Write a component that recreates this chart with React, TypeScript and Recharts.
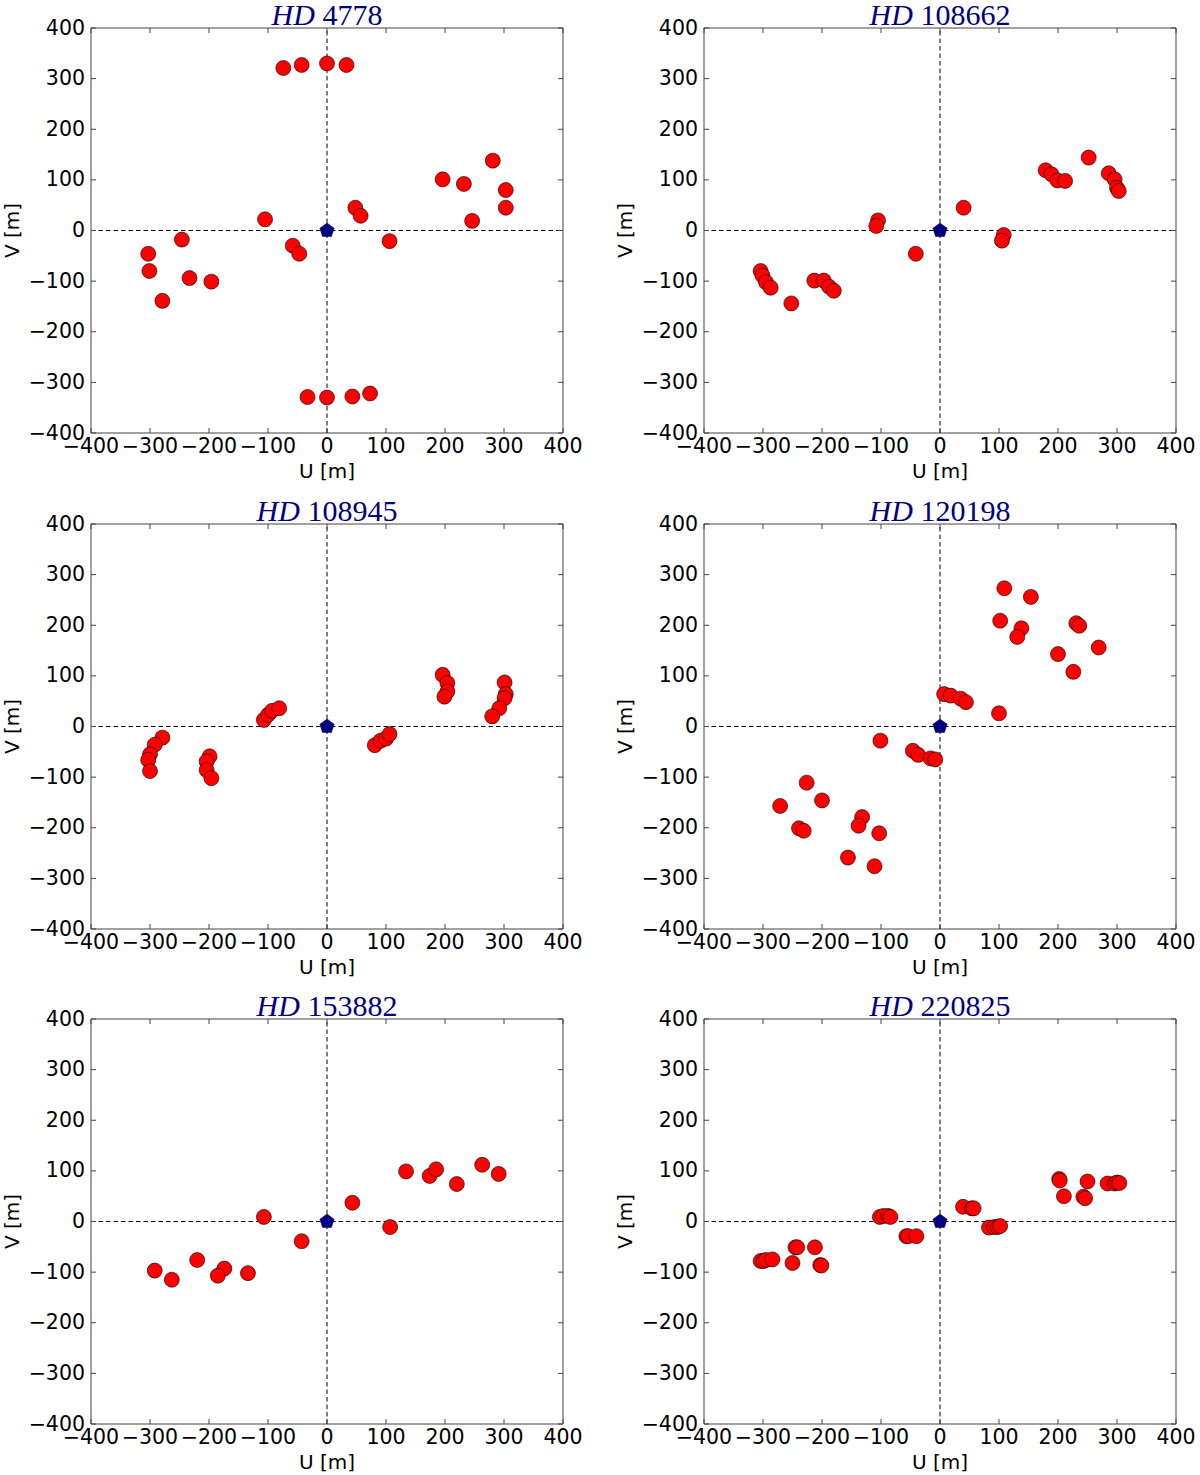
import React from 'react';
import { ScatterChart, Scatter, XAxis, YAxis, ReferenceLine, ReferenceArea } from 'recharts';

const ticks = [-400, -300, -200, -100, 0, 100, 200, 300, 400];

const stars = ['4778', '108662', '108945', '120198', '153882', '220825'];

const hd4778U = [-74, -43, 0, 33, 281, 196, 232, 303, 303, 246, 48, 57, 106, -105, -58, -47, -246, -303, -301, -233, -279, -196, -33, 0, 43, 73];
const hd4778V = [321, 327, 330, 327, 138, 101, 92, 80, 45, 19, 45, 29, -21, 22, -30, -46, -18, -46, -80, -94, -139, -101, -329, -330, -328, -322];

const hd108662U = [252, 179, 189, 199, 212, 286, 296, 300, 303, 40, -105, -108, 108, 105, -41, -304, -301, -295, -287, -252, -213, -197, -188, -180];
const hd108662V = [144, 119, 111, 99, 98, 113, 101, 84, 78, 45, 20, 9, -9, -20, -46, -80, -89, -102, -113, -144, -99, -99, -111, -119];

const hd108945U = [196, 204, 204, 199, 301, 303, 301, 292, 280, -279, -292, -300, -303, -300, -199, -204, -204, -196, -107, -100, -93, -81, 81, 91, 100, 106];
const hd108945V = [102, 86, 69, 59, 87, 64, 56, 36, 20, -22, -36, -55, -66, -88, -59, -69, -86, -102, 13, 23, 31, 36, -37, -28, -24, -15];

const hd120198U = [109, 154, 102, 138, 131, 231, 236, 269, 200, 226, 7, 18, 35, 44, 100, -101, -46, -37, -16, -8, -226, -200, -271, -239, -231, -132, -138, -103, -156, -111];
const hd120198V = [273, 256, 209, 194, 177, 204, 199, 156, 143, 108, 64, 61, 55, 48, 26, -28, -48, -56, -63, -65, -111, -146, -157, -201, -206, -179, -196, -211, -259, -276];

const hd153882U = [134, 174, 185, 220, 263, 291, 43, 107, -107, -43, -292, -263, -220, -174, -185, -134];
const hd153882V = [99, 90, 103, 74, 112, 94, 37, -11, 9, -39, -97, -115, -76, -93, -107, -102];

const hd220825U = [202, 203, 210, 250, 243, 246, 284, 296, 300, 304, 39, 54, 57, 83, 92, 98, 102, -102, -96, -88, -84, -57, -54, -40, -304, -299, -295, -284, -250, -245, -242, -212, -203, -201];
const hd220825V = [84, 81, 50, 79, 49, 46, 75, 75, 77, 76, 29, 26, 26, -12, -11, -11, -9, 9, 11, 11, 9, -29, -29, -29, -78, -78, -76, -75, -82, -51, -51, -51, -86, -87];

const uData = [hd4778U, hd108662U, hd108945U, hd120198U, hd153882U, hd220825U];
const vData = [hd4778V, hd108662V, hd108945V, hd120198V, hd153882V, hd220825V];

const PLOT_W = 472;
const PLOT_H = 405;
const CHART_W = 600;
const CHART_H = 496;
const colLeft = [0, 613];
const rowTop = [0, 496, 991];

const FONT = 'DejaVu Sans';
const fmt = (v: number) => (v < 0 ? `\u2212${-v}` : `${v}`);

function XTick(props: any) {
  const { x, y, payload } = props;
  return (
    <g>
      <line x1={x} y1={y} x2={x} y2={y - 5} stroke="#444" />
      <line x1={x} y1={y - PLOT_H} x2={x} y2={y - PLOT_H + 5} stroke="#444" />
      <text x={x} y={y + 20} textAnchor="middle" fontSize={20.5} fontFamily={FONT} fill="#000">
        {fmt(payload.value)}
      </text>
    </g>
  );
}

function YTick(props: any) {
  const { x, y, payload } = props;
  return (
    <g>
      <line x1={x} y1={y} x2={x + 5} y2={y} stroke="#444" />
      <line x1={x + PLOT_W} y1={y} x2={x + PLOT_W - 5} y2={y} stroke="#444" />
      <text x={x - 6} y={y + 6.5} textAnchor="end" fontSize={20.5} fontFamily={FONT} fill="#000">
        {fmt(payload.value)}
      </text>
    </g>
  );
}

const Dot = (props: any) => (
  <circle cx={props.cx} cy={props.cy} r={7.5} fill="#ff0000" stroke="#000" strokeWidth={0.6} />
);

const Pentagon = (props: any) => {
  const { cx, cy } = props;
  const pts = [0, 1, 2, 3, 4]
    .map((k) => {
      const a = ((-90 + 72 * k) * Math.PI) / 180;
      return `${cx + 7.5 * Math.cos(a)},${cy + 7.5 * Math.sin(a)}`;
    })
    .join(' ');
  return <polygon points={pts} fill="#000080" stroke="#000040" strokeWidth={0.5} />;
};

function Panel({ idx }: { idx: number }) {
  const points = uData[idx].map((u, i) => ({ u, v: vData[idx][i] }));
  const left = colLeft[idx % 2];
  const top = rowTop[Math.floor(idx / 2)];
  return (
    <div style={{ position: 'absolute', left, top, width: CHART_W, height: CHART_H }}>
      <div
        style={{
          position: 'absolute',
          left: 91,
          top: 0,
          width: PLOT_W,
          textAlign: 'center',
          fontFamily: 'Liberation Serif',
          fontSize: 30,
          lineHeight: '30px',
          color: '#000080',
        }}
      >
        <i>HD</i> {stars[idx]}
      </div>
      <ScatterChart
        width={CHART_W}
        height={CHART_H}
        margin={{ top: 28, right: 37, bottom: 3, left: 0 }}
        style={{ fontFamily: FONT }}
      >
        <XAxis
          type="number"
          dataKey="u"
          domain={[-400, 400]}
          ticks={ticks}
          interval={0}
          height={60}
          axisLine={false}
          tickLine={false}
          tickSize={0}
          tickMargin={0}
          tick={<XTick />}
          label={{ value: 'U [m]', position: 'insideBottom', offset: 15, fill: '#000', fontSize: 20, fontFamily: FONT }}
        />
        <YAxis
          type="number"
          dataKey="v"
          domain={[-400, 400]}
          ticks={ticks}
          interval={0}
          width={91}
          axisLine={false}
          tickLine={false}
          tickSize={0}
          tickMargin={0}
          tick={<YTick />}
          label={{
            value: 'V [m]',
            angle: -90,
            position: 'insideLeft',
            offset: 12,
            fill: '#000',
            fontSize: 20,
            fontFamily: FONT,
            style: { textAnchor: 'middle' },
          }}
        />
        <ReferenceArea x1={-400} x2={400} y1={-400} y2={400} fill="none" stroke="#444" strokeWidth={1} />
        <ReferenceLine x={0} stroke="#000" strokeWidth={1} strokeDasharray="4.5 3" />
        <ReferenceLine y={0} stroke="#000" strokeWidth={1} strokeDasharray="4.5 3" />
        <Scatter data={points} shape={<Dot />} isAnimationActive={false} />
        <Scatter data={[{ u: 0, v: 0 }]} shape={<Pentagon />} isAnimationActive={false} />
      </ScatterChart>
    </div>
  );
}

export default function App() {
  return (
    <div style={{ position: 'absolute', left: 0, top: 0, width: 1200, height: 1475, background: '#fff' }}>
      {stars.map((_, i) => (
        <Panel key={i} idx={i} />
      ))}
    </div>
  );
}
